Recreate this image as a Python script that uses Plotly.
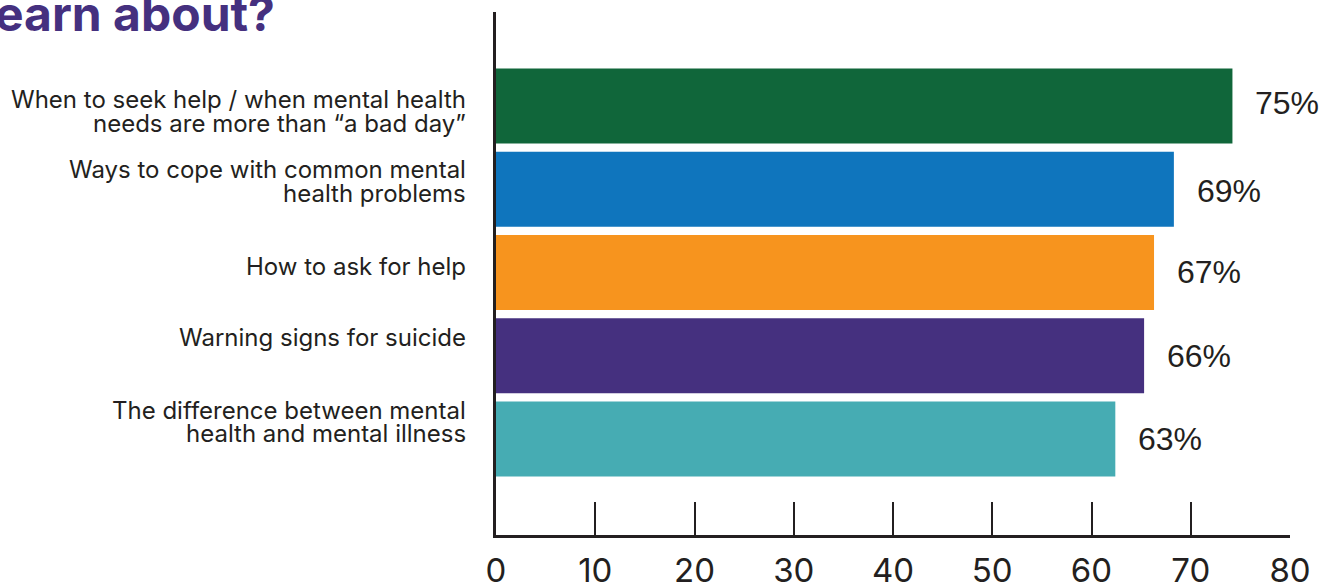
import plotly.graph_objects as go

# ---- data ----
categories = [
    "When to seek help / when mental health\nneeds are more than \u201ca bad day\u201d",
    "Ways to cope with common mental\nhealth problems",
    "How to ask for help",
    "Warning signs for suicide",
    "The difference between mental\nhealth and mental illness",
]
bar_values = [74.2, 68.3, 66.3, 65.3, 62.4]
value_labels = ["75%", "69%", "67%", "66%", "63%"]
bar_colors = ["#10663a", "#0f75bd", "#f7941e", "#45307f", "#46acb3"]
x_ticks = [0, 10, 20, 30, 40, 50, 60, 70, 80]
title_text = "earn about?"

# ---- layout geometry (pixels) ----
W, H = 1334, 586
L, R, T, B = 496, 44, 12, 51
PW, PH = W - L - R, H - T - B
INK = "#231f20"

def px_x(px):
    return (px - L) / PW

def px_y(py):
    return (H - B - py) / PH

ypos = list(range(len(categories)))

fig = go.Figure()
fig.add_trace(go.Bar(
    x=bar_values, y=ypos, orientation="h",
    marker=dict(color=bar_colors, line=dict(width=0)),
    width=0.9, hoverinfo="skip",
))

annotations = []
# category labels (right aligned, split lines)
label_yshift = [5.5, -8, -6, -18, -17]
line_gap = 23.5
for i, cat in enumerate(categories):
    lines = cat.split("\n")
    n = len(lines)
    for j, ln in enumerate(lines):
        off = (j - (n - 1) / 2) * line_gap
        annotations.append(dict(
            xref="paper", yref="y", x=px_x(468), y=ypos[i],
            xanchor="right", yanchor="middle", showarrow=False,
            text=ln, yshift=-(label_yshift[i] + off),
            font=dict(family="Inter", size=24, color=INK),
        ))

# value labels
value_yshift = [-3, 1.5, -1, 0, 0]
for i, (v, lab) in enumerate(zip(bar_values, value_labels)):
    annotations.append(dict(
        xref="x", yref="y", x=v, y=ypos[i],
        xanchor="left", yanchor="middle", showarrow=False,
        text=lab, xshift=21, yshift=-value_yshift[i],
        font=dict(family="Liberation Sans", size=32, color=INK),
    ))

# cropped title
annotations.append(dict(
    xref="paper", yref="paper", x=px_x(-7), y=px_y(13.5),
    xanchor="left", yanchor="middle", showarrow=False,
    text="<b>" + title_text + "</b>",
    font=dict(family="Inter", size=48, color="#45307f", weight=900),
))

fig.update_layout(
    width=W, height=H,
    margin=dict(l=L, r=R, t=T, b=B, pad=0, autoexpand=False),
    paper_bgcolor="white", plot_bgcolor="white",
    showlegend=False,
    annotations=annotations,
    xaxis=dict(
        range=[0, 80], tickvals=x_ticks, ticktext=[str(t) for t in x_ticks],
        ticks="inside", ticklen=33, tickwidth=2, tickcolor=INK,
        showline=True, linewidth=3, linecolor=INK,
        showgrid=False, zeroline=False, fixedrange=True, automargin=False,
        tickfont=dict(family="Inter", size=33, color=INK),
        ticklabelstandoff=4,
    ),
    yaxis=dict(
        range=[5.153, -1.129], showticklabels=False, ticks="",
        showline=True, linewidth=3, linecolor=INK,
        showgrid=False, zeroline=False, fixedrange=True, automargin=False,
    ),
)

fig.write_html(
    "out.html",
    config={"displayModeBar": False},
    post_script="document.body.style.margin='0';document.body.style.overflow='hidden';",
)
